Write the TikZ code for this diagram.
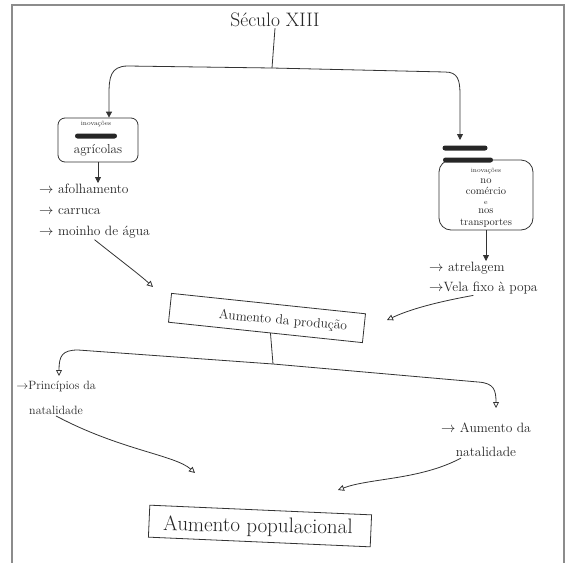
\documentclass[tikz,border=0pt]{standalone}
\usetikzlibrary{arrows.meta}
\begin{document}
\begin{tikzpicture}[x=1pt,y=-1pt,
  ink/.style={draw=black!80, line width=0.8pt},
  fa/.style={-{Triangle[length=6pt,width=6pt]}},
  oa/.style={-{Triangle[open,length=6pt,width=6pt]}},
  txt/.style={inner sep=1pt, text=black!85},
  blot/.style={fill=black!85, rounded corners=2.5pt, inner sep=0pt, minimum height=5pt},
]
\useasboundingbox (0,0) rectangle (566,563);
\draw[black!45, line width=1.3pt] (12,563) -- (12,5) -- (564,5) -- (564,563);

% top
\node[txt, font=\fontsize{19.5}{22}\selectfont] (sec) at (275,20) {Século XIII};
\coordinate (j1) at (272,68);
\draw[ink] (sec.south) -- (j1);

% left box
\node[ink, draw, rounded corners=7pt, minimum width=80pt, minimum height=44pt] (agr) at (98,140) {};
\node[txt, font=\fontsize{6.5}{7}\selectfont] (agr1) at (96,124) {inovações};
\node[blot, minimum width=42pt] (agr2) at (96,136) {};
\node[txt, font=\fontsize{13}{15}\selectfont] (agr3) at (98,150) {agrícolas};
\draw[ink, fa] (j1) -- (128,66) .. controls (110,66) and (109,78) .. (109,95) -- ([xshift=11pt]agr.north);

% left list
\node[txt, anchor=north west, align=left, font=\fontsize{13.5}{21}\selectfont] (agl) at (38,183)
  {$\rightarrow$ afolhamento\\$\rightarrow$ carruca\\$\rightarrow$ moinho de água};
\draw[ink, fa] (agr.south) -- (agl.north -| agr.south);

% right box
\node[blot, minimum width=45pt] (bar1) at (465,148) {};
\node[ink, draw, rounded corners=12pt, minimum width=94pt, minimum height=70pt] (com) at (486,195) {};
\node[blot, minimum width=50pt] (bar2) at (468,160) {};
\node[txt, align=center, font=\fontsize{10.5}{11.5}\selectfont] (comt) at (486,198)
  {{\fontsize{6.5}{7}\selectfont inovações}\\[-1pt] no\\ comércio\\[-2pt] {\fontsize{7}{7}\selectfont e}\\[-2pt] nos\\ transportes};
\draw[ink, fa] (j1) -- (445,72) .. controls (458,72) and (460,80) .. (460,95) -- (460,140);

% right list
\node[txt, anchor=north west, align=left, font=\fontsize{13.5}{20}\selectfont] (inr) at (428,261)
  {$\rightarrow$ atrelagem\\$\rightarrow$Vela fixo à popa};
\draw[ink, fa] (com.south) -- (com.south |- inr.north);

% production
\node[ink, draw, rotate=-6, minimum width=195pt, minimum height=29pt] (prod) at (267,318) {};
\node[txt, rotate=-5, font=\fontsize{13.5}{15}\selectfont] (prodt) at (283,321) {Aumento da produção};
\coordinate (pa) at (153,287);
\coordinate (pb) at (387,320);
\draw[ink, oa] (agl.south) .. controls (120,260) and (140,275) .. (pa);
\draw[ink, oa] ([xshift=-10pt]inr.south) .. controls (420,305) and (400,314) .. (pb);

% lower branches
\coordinate (j2) at (273,364);
\draw[ink] ([xshift=5pt]prod.south) -- (j2);
\node[txt, align=center, font=\fontsize{12}{25}\selectfont] (pri) at (56,398)
  {$\rightarrow$Princípios da\\natalidade};
\node[txt, align=center, font=\fontsize{13.5}{24}\selectfont] (aun) at (486,440)
  {$\rightarrow$ Aumento da\\natalidade};
\draw[ink, oa] (j2) -- (78,350) .. controls (62,350) and (59,356) .. (59,376);
\draw[ink, oa] (j2) -- (478,382) .. controls (494,383) and (496,390) .. (496,408);

% population
\node[ink, draw, rotate=-2.5, minimum width=222pt, minimum height=32pt] (pop) at (260,526) {};
\node[txt, rotate=-1, font=\fontsize{21}{23}\selectfont] (popt) at (258,527) {Aumento populacional};
\coordinate (qa) at (195,473);
\coordinate (qb) at (338,490);
\draw[ink, oa] (pri.south) .. controls (120,450) and (175,455) .. (qa);
\draw[ink, oa] ([xshift=-25pt]aun.south) .. controls (420,480) and (370,478) .. (qb);
\end{tikzpicture}
\end{document}
